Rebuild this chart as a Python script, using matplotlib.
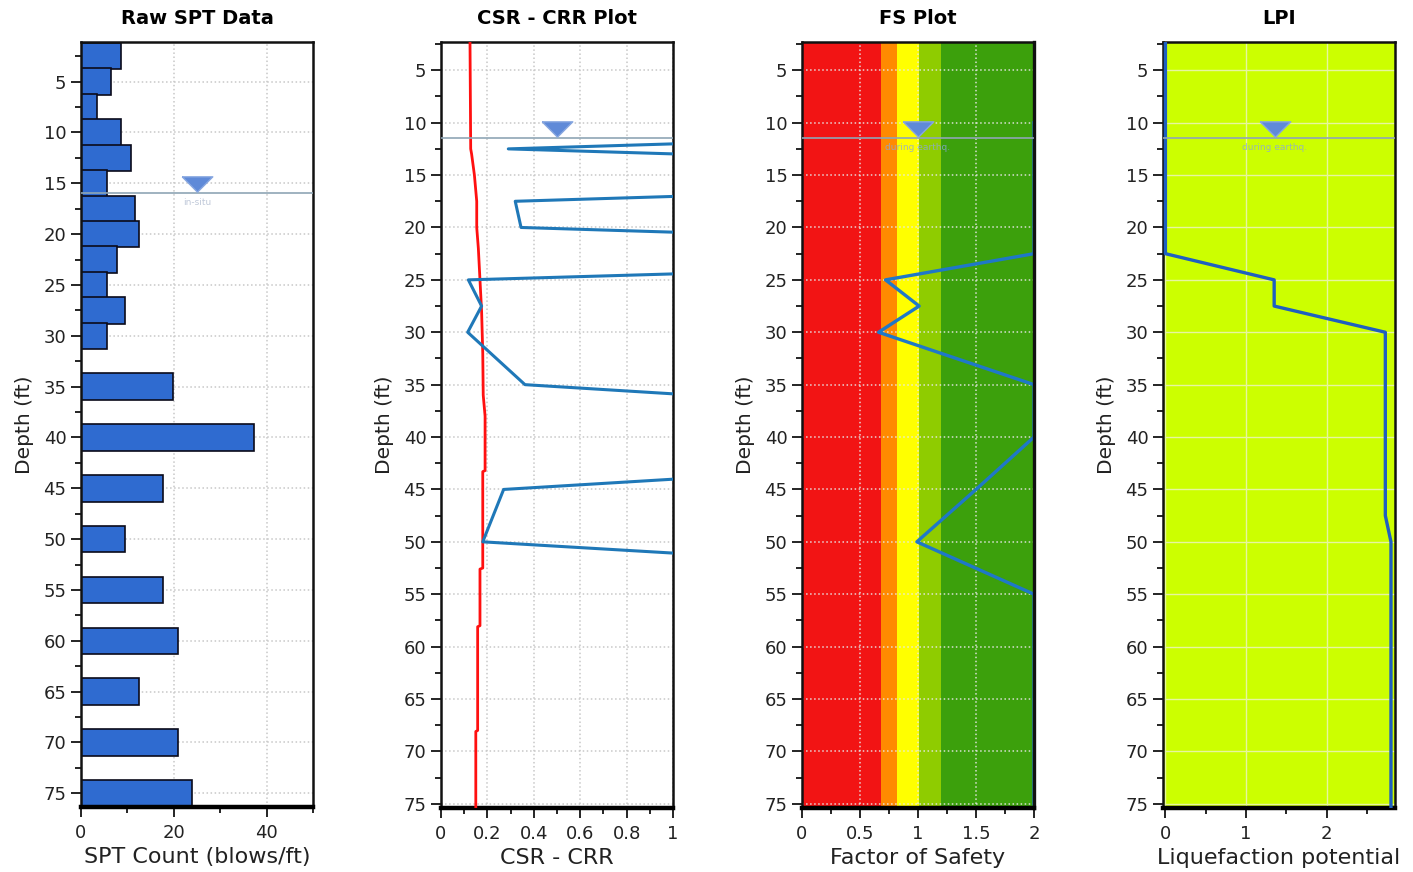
import matplotlib
matplotlib.use("Agg")
import matplotlib.pyplot as plt
from matplotlib.ticker import MultipleLocator, FuncFormatter

plt.rcParams['font.family'] = ['DejaVu Sans']

# ---------------- data ----------------
spt_depth = [2.5, 5, 7.5, 10, 12.5, 15, 17.5, 20, 22.5, 25, 27.5, 30,
             35, 40, 45, 50, 55, 60, 65, 70, 75]
spt_count = [8.6, 6.5, 3.5, 8.6, 10.8, 5.6, 11.7, 12.5, 7.7, 5.6, 9.5, 5.6,
             19.9, 37.2, 17.7, 9.5, 17.7, 20.8, 12.6, 20.8, 23.9]

csr_depth = [2.3, 12.5, 13.0, 15.0, 17.5, 20.0, 22.0, 25.0, 28.0, 32.0, 36.0, 38.0,
             43.2, 43.3, 52.5, 52.6, 58.0, 58.1, 68.0, 68.1, 75.4]
csr_value = [0.125, 0.128, 0.132, 0.144, 0.154, 0.154, 0.161, 0.168, 0.175, 0.180, 0.182, 0.190,
             0.190, 0.180, 0.180, 0.168, 0.168, 0.158, 0.158, 0.150, 0.150]

crr_depth = [10, 12.5, 15, 17.5, 20, 22.5, 25, 27.5, 30, 35, 40, 45, 50, 55, 60, 65, 70, 75]
crr_value = [4.0, 0.29, 4.0, 0.32, 0.345, 4.0, 0.118, 0.175, 0.115, 0.362, 4.0, 0.27, 0.18,
             4.0, 4.0, 4.0, 4.0, 4.0]

fs_depth = [10, 12.5, 15, 17.5, 20, 22.5, 25, 27.5, 30, 35, 40, 45, 50, 55, 60, 65, 70, 75]
fs_value = [2.0, 2.0, 2.0, 2.0, 2.0, 2.0, 0.72, 1.01, 0.66, 2.0, 2.0, 1.5, 0.99,
            2.0, 2.0, 2.0, 2.0, 2.0]

fs_band_edges = [0.0, 0.68, 0.82, 1.01, 1.2, 2.0]
fs_band_colors = ['#f21414', '#ff8a00', '#ffff00', '#8fcc00', '#3ca00c']

lpi_depth = [2.3, 22.5, 25.0, 27.5, 30.0, 47.5, 50.0, 75.4]
lpi_value = [0.0, 0.0, 1.35, 1.35, 2.73, 2.73, 2.80, 2.80]

gwt_spt = 16.0
gwt_design = 11.5

titles = ['Raw SPT Data', 'CSR - CRR Plot', 'FS Plot', 'LPI']
xlabels = ['SPT Count (blows/ft)', 'CSR - CRR', 'Factor of Safety', 'Liquefaction potential']

# ---------------- figure ----------------
W, H = 1413, 872
fig = plt.figure(figsize=(W / 100, H / 100), dpi=100)

def make_ax(left, right, top, bottom):
    return fig.add_axes([left / W, 1 - bottom / H, (right - left) / W, (bottom - top) / H])

axes = [make_ax(81, 313, 42, 807), make_ax(441, 673, 42, 808),
        make_ax(802, 1034, 42, 808), make_ax(1163, 1395, 42, 808)]

TICK_FS = 13
LAB_FS = 16
YLAB_FS = 14.5
TITLE_FS = 14
fmt = FuncFormatter(lambda v, p: f'{v:g}')

for ax, t, xl in zip(axes, titles, xlabels):
    ax.set_title(t, fontsize=TITLE_FS, fontweight='bold', pad=13)
    ax.set_xlabel(xl, fontsize=LAB_FS, labelpad=4, color='#222222')
    ax.set_ylabel('Depth (ft)', fontsize=YLAB_FS, labelpad=7, color='#222222')
    ax.yaxis.set_major_locator(MultipleLocator(5))
    ax.yaxis.set_minor_locator(MultipleLocator(2.5))
    ax.tick_params(axis='both', which='major', labelsize=TICK_FS, length=7, width=1.2,
                   direction='out', labelcolor='#222222')
    ax.tick_params(axis='x', which='major', pad=5)
    ax.tick_params(axis='both', which='minor', length=4, width=1.2, direction='out')
    for s in ['top', 'right', 'left']:
        ax.spines[s].set_linewidth(1.8)
        ax.spines[s].set_color('#111111')
    ax.spines['bottom'].set_linewidth(3.2)
    ax.spines['bottom'].set_color('#000000')
    ax.set_axisbelow(True)

tri = [(-1.0, 0.5), (1.0, 0.5), (0.0, -0.5), (-1.0, 0.5)]

def water_table(ax, depth, xmid, label, col_text='#8aa6dd'):
    ax.axhline(depth, color='#8fa6b5', lw=1.2, zorder=3)
    ax.plot([xmid], [depth - 0.9], marker=tri, markersize=22, color='#5f8ad8',
            markeredgecolor='#86a6e0', markeredgewidth=1, zorder=4)
    ax.text(xmid, depth + 0.9, label, fontsize=6.5, color=col_text, ha='center',
            va='center', alpha=0.8, zorder=4)

# Panel 1 : Raw SPT
ax = axes[0]
ax.barh(spt_depth, spt_count, height=2.6, color='#2f6bd0', edgecolor='#0a0a1a', lw=1.2, zorder=2)
ax.set_xlim(0, 50)
ax.set_ylim(76.35, 1.1)
ax.xaxis.set_major_locator(MultipleLocator(20))
ax.xaxis.set_minor_locator(MultipleLocator(10))
ax.grid(True, which='major', linestyle=':', color='#c8c8c8', lw=1.1)
water_table(ax, gwt_spt, 25, 'in-situ', col_text='#b0bbd0')

# Panel 2 : CSR - CRR
ax = axes[1]
ax.plot(csr_value, csr_depth, color='#ff1010', lw=2.0, zorder=3)
ax.plot(crr_value, crr_depth, color='#1f78b8', lw=2.2, zorder=3)
ax.set_xlim(0, 1)
ax.set_ylim(75.4, 2.3)
ax.xaxis.set_major_locator(MultipleLocator(0.2))
ax.xaxis.set_minor_locator(MultipleLocator(0.1))
ax.xaxis.set_major_formatter(fmt)
ax.grid(True, which='major', linestyle=':', color='#c8c8c8', lw=1.1)
water_table(ax, gwt_design, 0.5, '')

# Panel 3 : FS
ax = axes[2]
for i, c in enumerate(fs_band_colors):
    ax.axvspan(fs_band_edges[i], fs_band_edges[i + 1], color=c, lw=0, zorder=0)
ax.plot(fs_value, fs_depth, color='#1f78c8', lw=2.4, zorder=2)
ax.spines['right'].set_linewidth(2.4)
ax.set_xlim(0, 2)
ax.set_ylim(75.4, 2.3)
ax.xaxis.set_major_locator(MultipleLocator(0.5))
ax.xaxis.set_minor_locator(MultipleLocator(0.25))
ax.xaxis.set_major_formatter(fmt)
ax.grid(True, which='major', linestyle=':', color='#e8e8e8', lw=1.1, alpha=0.9, zorder=1)
water_table(ax, gwt_design, 1.0, 'during earthq.')

# Panel 4 : LPI
ax = axes[3]
ax.set_facecolor('#ccff00')
ax.plot(lpi_value, lpi_depth, color='#1f5fc0', lw=2.4, zorder=3)
ax.set_xlim(-0.03, 2.85)
ax.set_ylim(75.4, 2.3)
ax.xaxis.set_major_locator(MultipleLocator(1))
ax.xaxis.set_minor_locator(MultipleLocator(0.5))
ax.grid(True, which='major', linestyle='-', color='#e6f5a0', lw=1.0, zorder=1)
water_table(ax, gwt_design, 1.36, 'during earthq.')

fig.savefig('out.png', dpi=100)
